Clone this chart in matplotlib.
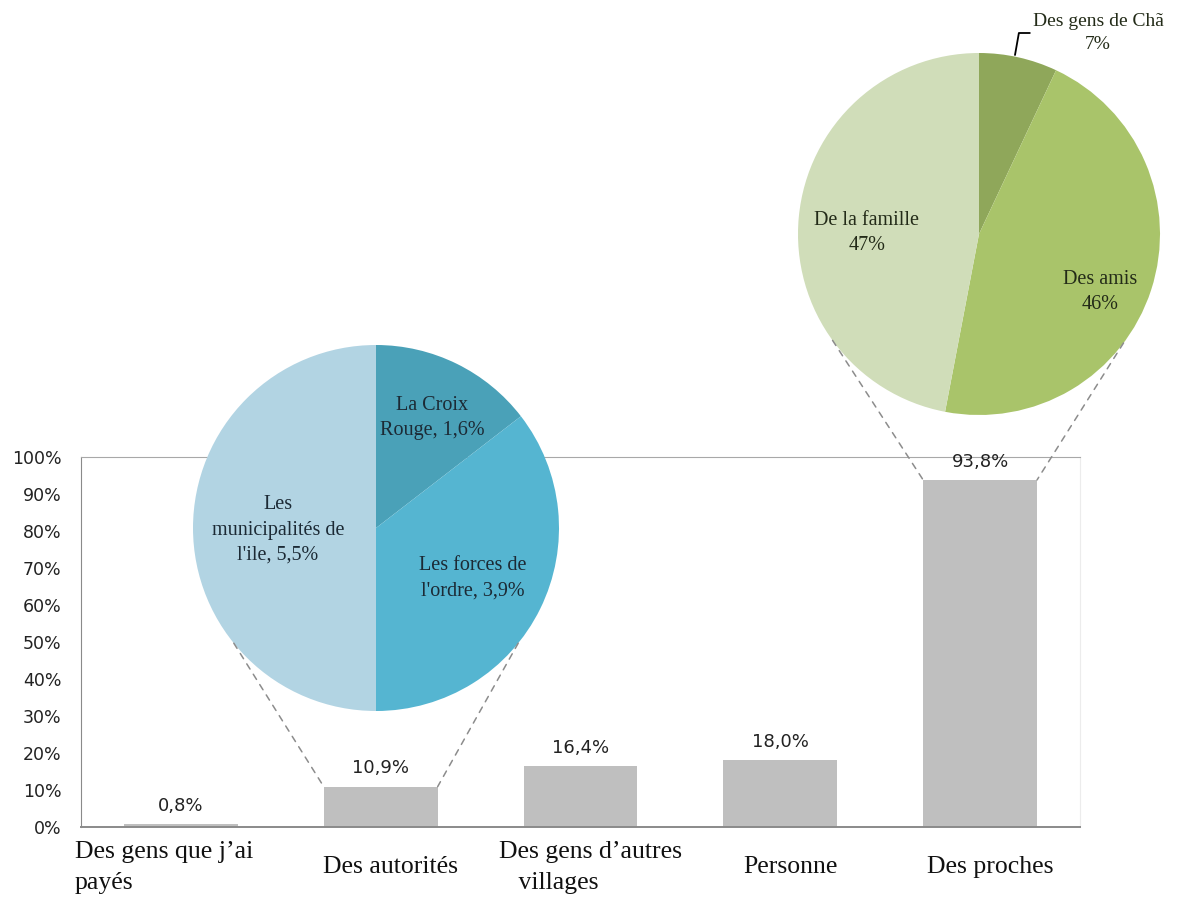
import matplotlib.pyplot as plt
from matplotlib.patches import ConnectionPatch
import numpy as np

categories = ["Des gens que j’ai\npayés", "Des autorités", "Des gens d’autres\n   villages",
              "Personne", "Des proches"]
values = [0.8, 10.9, 16.4, 18.0, 93.8]
value_labels = ["0,8%", "10,9%", "16,4%", "18,0%", "93,8%"]
yticks = [0, 10, 20, 30, 40, 50, 60, 70, 80, 90, 100]

auth_labels = ["La Croix\nRouge, 1,6%", "Les forces de\nl'ordre, 3,9%", "Les\nmunicipalités de\nl'ile, 5,5%"]
auth_values = [1.6, 3.9, 5.5]
auth_colors = ["#4aa1b8", "#55b5d1", "#b2d4e3"]

proches_labels = ["Des gens de Chã\n7%", "Des amis\n46%", "De la famille\n47%"]
proches_values = [7, 46, 47]
proches_colors = ["#8fa75a", "#a9c46a", "#d0ddb9"]

W, H = 1187, 897
fig = plt.figure(figsize=(W / 100, H / 100), dpi=100)

def px_axes(x0, y0, x1, y1):
    # pixel box (top-left origin) -> figure axes
    return fig.add_axes([x0 / W, (H - y1) / H, (x1 - x0) / W, (y1 - y0) / H])

# bar chart
ax = px_axes(81, 457, 1080, 827)
x = np.arange(len(categories))
ax.bar(x, values, width=0.57, color="#bfbfbf", zorder=2)
ax.set_xlim(-0.5, 4.5)
ax.set_ylim(0, 100)
ax.set_yticks(yticks)
ax.set_yticklabels([f"{t}%" for t in yticks], fontsize=12.5, color="#222222")
ax.tick_params(axis="y", length=0, pad=14)
ax.set_xticks([])
ax.spines["left"].set_color("#8a8a8a")
ax.spines["bottom"].set_color("#8a8a8a")
ax.spines["bottom"].set_linewidth(1.4)
ax.spines["top"].set_color("#a8a8a8")
ax.spines["right"].set_color("#ececec")

for i, (v, lab) in enumerate(zip(values, value_labels)):
    ax.text(i, v + 2.5, lab, ha="center", va="bottom", fontsize=13, color="#222222")

for i, c in enumerate(categories):
    if i == 0:
        ax.text(-0.53, -10.9, c, ha="left", va="center", fontsize=18.5, family="Liberation Serif",
                linespacing=1.55, color="#111111")
    else:
        ax.text(i + 0.05, -10.9, c, ha="center", va="center", fontsize=18.5, family="Liberation Serif",
                linespacing=1.55, multialignment="left", color="#111111")

# left pie (Des autorités)
cx, cy, r = 376, 528, 183
pa = px_axes(cx - r, cy - r, cx + r, cy + r)
pa.pie(auth_values, colors=auth_colors, startangle=90, counterclock=False, radius=1)
pa.set_xlim(-1, 1)
pa.set_ylim(-1, 1)
pa.axis("off")
auth_pos = [(432, 418), (473, 578), (278, 530)]
for lab, (tx, ty) in zip(auth_labels, auth_pos):
    pa.text((tx - cx) / r, (cy - ty) / r, lab, ha="center", va="center", fontsize=14.5,
            family="Liberation Serif", color="#1c2a35", linespacing=1.45)

# right pie (Des proches)
cx2, cy2, r2 = 979, 234, 181
pb = px_axes(cx2 - r2, cy2 - r2, cx2 + r2, cy2 + r2)
pb.pie(proches_values, colors=proches_colors, startangle=90, counterclock=False, radius=1)
pb.set_xlim(-1, 1)
pb.set_ylim(-1, 1)
pb.axis("off")
pb.text((867 - cx2) / r2, (cy2 - 233) / r2, proches_labels[2], ha="center", va="center",
        fontsize=14.5, family="Liberation Serif", color="#232b18", linespacing=1.45)
pb.text((1100 - cx2) / r2, (cy2 - 292) / r2, proches_labels[1], ha="center", va="center",
        fontsize=14.5, family="Liberation Serif", color="#232b18", linespacing=1.45)
pb.annotate(proches_labels[0], xy=((1015 - cx2) / r2, (cy2 - 55) / r2),
            xytext=((1098 - cx2) / r2, (cy2 - 33) / r2), ha="center", va="center",
            fontsize=14, family="Liberation Serif", color="#232b18", linespacing=1.45,
            annotation_clip=False,
            arrowprops=dict(arrowstyle="-", color="black", lw=1.3,
                            connectionstyle="angle,angleA=0,angleB=80,rad=0",
                            shrinkA=60, shrinkB=0))

# dashed connectors from pies to bars
def connect(pie_ax, ang, bar_idx, side):
    a = np.deg2rad(ang)
    xb = bar_idx + side * 0.285
    con = ConnectionPatch(xyA=(np.cos(a), np.sin(a)), coordsA=pie_ax.transData,
                          xyB=(xb, values[bar_idx]), coordsB=ax.transData,
                          linestyle=(0, (4, 4)), color="#8c8c8c", lw=1.1)
    fig.add_artist(con)

connect(pa, 219, 1, -1)
connect(pa, -39, 1, 1)
connect(pb, 216, 4, -1)
connect(pb, -37, 4, 1)

fig.savefig("out.png", dpi=100)
